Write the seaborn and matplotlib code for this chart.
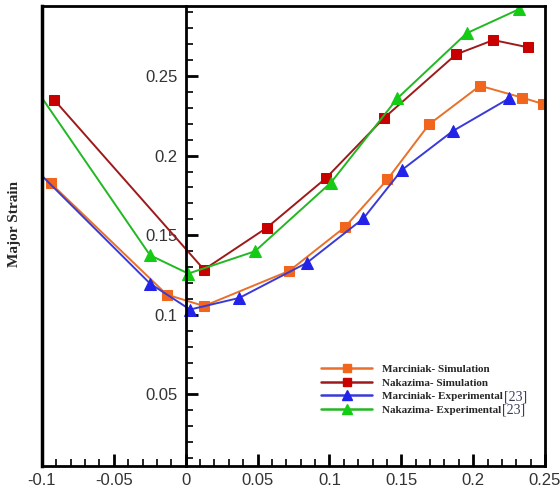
import matplotlib
matplotlib.use("Agg")
import matplotlib.pyplot as plt
import matplotlib.ticker as mticker
from matplotlib.lines import Line2D
from matplotlib.transforms import IdentityTransform
import seaborn as sns
import pandas as pd

# ---- data ----
marc_sim_x = [-0.094, -0.0132, 0.0127, 0.0721, 0.1109, 0.1403, 0.1693, 0.2048, 0.2342, 0.2489]
marc_sim_y = [0.1827, 0.1127, 0.1055, 0.1276, 0.1552, 0.1850, 0.2196, 0.2439, 0.2364, 0.2324]

naka_sim_x = [-0.0914, 0.0127, 0.0563, 0.0974, 0.1382, 0.1881, 0.2141, 0.2384]
naka_sim_y = [0.2349, 0.1284, 0.1546, 0.1857, 0.2238, 0.2636, 0.2726, 0.2680]

marc_exp_x = [-0.105, -0.0248, 0.0030, 0.0373, 0.0842, 0.1236, 0.1503, 0.1858, 0.2251]
marc_exp_y = [0.1918, 0.1196, 0.1033, 0.1106, 0.1326, 0.1605, 0.1909, 0.2154, 0.2360]

naka_exp_x = [-0.105, -0.0248, 0.0018, 0.0482, 0.1011, 0.1473, 0.1955, 0.2322]
naka_exp_y = [0.2428, 0.1374, 0.1259, 0.1399, 0.1831, 0.2360, 0.2769, 0.2921]

labels = ["Marciniak- Simulation", "Nakazima- Simulation",
          "Marciniak- Experimental", "Nakazima- Experimental"]
ref_suffix = "[23]"
x_ticks = [-0.1, -0.05, 0, 0.05, 0.1, 0.15, 0.2, 0.25]
y_ticks = [0.05, 0.1, 0.15, 0.2, 0.25]

sns.set_style("white")
plt.rcParams['font.family'] = ['Liberation Sans', 'DejaVu Sans']

fig = plt.figure(figsize=(5.6, 4.9), dpi=100)
ax = fig.add_axes([42/560, 1-466/490, 503/560, 460/490])

series = [
    (marc_sim_x, marc_sim_y, 's', '#E8702A', '#F2651C', 7),
    (naka_sim_x, naka_sim_y, 's', '#9E1A1A', '#C80000', 7),
    (marc_exp_x, marc_exp_y, '^', '#3A3AD8', '#2222E8', 8),
    (naka_exp_x, naka_exp_y, '^', '#22B822', '#14CC14', 8),
]
handles = []
for (xs, ys, mk, lc, mc, ms), lab in zip(series, labels):
    df = pd.DataFrame({"x": xs, "y": ys})
    sns.lineplot(data=df, x="x", y="y", ax=ax, sort=False, estimator=None,
                 color=lc, lw=1.4, marker=mk, markersize=ms,
                 markerfacecolor=mc, markeredgecolor=mc, legend=False)
    handles.append(Line2D([], [], color=lc, lw=1.8, marker=mk, markersize=ms-1,
                          markerfacecolor=mc, markeredgecolor=mc, label=lab))

ax.set_xlim(-0.1, 0.25)
ax.set_ylim(0.005, 0.294)

ax.xaxis.set_major_locator(mticker.FixedLocator(x_ticks))
ax.xaxis.set_minor_locator(mticker.MultipleLocator(0.01))
ax.yaxis.set_major_locator(mticker.FixedLocator(y_ticks))
ax.yaxis.set_minor_locator(mticker.MultipleLocator(0.01))
ax.xaxis.set_major_formatter(mticker.FormatStrFormatter('%g'))
ax.yaxis.set_major_formatter(mticker.FormatStrFormatter('%g'))

ax.tick_params(axis='both', which='major', direction='in', length=8.5, width=2,
               color='black', labelsize=12, labelcolor='#333333')
ax.tick_params(axis='both', which='minor', direction='in', length=5, width=1.2,
               color='black')
ax.tick_params(axis='x', which='both', bottom=True, top=False, pad=5)
ax.tick_params(axis='y', which='both', left=True, right=False, pad=6)

for s in ax.spines.values():
    s.set_visible(True)
    s.set_color('black')
    s.set_linewidth(2)
ax.spines['left'].set_position(('data', 0))
ax.plot([0, 0], [0, 1], transform=ax.transAxes, color='black', lw=2.5,
        clip_on=False, solid_capstyle='projecting')

ax.set_xlabel("")
ax.set_ylabel("Major Strain", fontfamily='Liberation Serif', fontweight='bold',
              fontsize=11)
ax.yaxis.set_label_coords(-0.041, 0.526)

leg = ax.legend(handles=handles, loc='center left',
                bbox_to_anchor=(321/560, 1-389.5/490), bbox_transform=fig.transFigure,
                frameon=False, borderpad=0, borderaxespad=0,
                handlelength=4.6, handletextpad=0.9, labelspacing=0.35,
                prop={'family': 'Liberation Serif', 'weight': 'bold', 'size': 8})

fig.canvas.draw()
renderer = fig.canvas.get_renderer()
for t in leg.get_texts()[2:]:
    bb = t.get_window_extent(renderer)
    fig.text(bb.x1 + 1, (bb.y0 + bb.y1) / 2, ref_suffix, transform=IdentityTransform(),
             ha='left', va='center', fontfamily='Liberation Serif', fontsize=10,
             color='#3a3a5a')

fig.savefig("out.png", dpi=100)
